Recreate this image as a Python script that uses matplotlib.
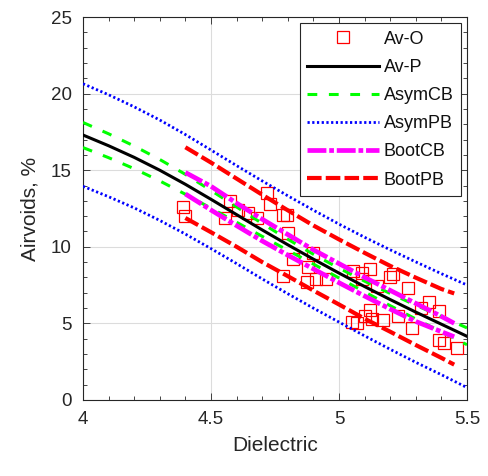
import matplotlib
matplotlib.use("Agg")
import matplotlib.pyplot as plt
from matplotlib.ticker import MultipleLocator

plt.rcParams['font.family'] = ['Liberation Sans', 'DejaVu Sans']

# Observed data (Av-O)
obs_x = [4.39, 4.40, 4.555, 4.575, 4.605, 4.645, 4.68, 4.72, 4.73, 4.78, 4.795,
         4.80, 4.82, 4.78, 4.875, 4.90, 4.88, 4.91, 4.95, 5.055, 5.05, 5.12,
         5.09, 5.15, 5.20, 5.21, 5.27, 5.35, 5.39, 5.32, 5.12, 5.13, 5.10,
         5.17, 5.23, 5.285, 5.39, 5.41, 5.46, 5.09, 5.07]
obs_y = [12.6, 12.0, 11.9, 13.0, 12.4, 12.2, 11.85, 13.5, 12.8, 12.05, 12.05,
         10.9, 9.2, 8.1, 7.7, 9.6, 8.7, 7.9, 7.9, 8.4, 5.1, 8.55,
         7.9, 7.45, 8.0, 8.2, 7.3, 6.4, 5.8, 6.0, 5.9, 5.3, 5.5,
         5.2, 5.5, 4.7, 3.9, 3.7, 3.4, 8.3, 5.05]

# Fitted curve and asymptotic bands
fit_x = [4.0, 4.1, 4.2, 4.3, 4.4, 4.5, 4.6, 4.7, 4.8, 4.9, 5.0, 5.1, 5.2, 5.3, 5.4, 5.5]
av_p = [17.3, 16.6, 15.84, 15.0, 14.08, 13.1, 12.1, 11.1, 10.13, 9.19, 8.28, 7.4, 6.55, 5.73, 4.94, 4.15]
asym_cb_upper = [18.12, 17.38, 16.58, 15.7, 14.73, 13.68, 12.6, 11.52, 10.49, 9.51, 8.6, 7.75, 6.95, 6.18, 5.44, 4.7]
asym_cb_lower = [16.48, 15.82, 15.1, 14.3, 13.43, 12.52, 11.6, 10.68, 9.77, 8.87, 7.96, 7.05, 6.15, 5.28, 4.44, 3.6]
asym_pb_upper = [20.65, 19.93, 19.14, 18.28, 17.33, 16.32, 15.3, 14.3, 13.33, 12.39, 11.48, 10.62, 9.8, 9.01, 8.24, 7.5]
asym_pb_lower = [13.95, 13.27, 12.54, 11.72, 10.83, 9.88, 8.9, 7.9, 6.93, 5.99, 5.08, 4.18, 3.3, 2.45, 1.64, 0.8]

# Bootstrap bands
boot_x = [4.4, 4.5, 4.6, 4.7, 4.8, 4.9, 5.0, 5.1, 5.2, 5.3, 5.4, 5.45]
boot_cb_upper = [14.85, 13.95, 12.85, 11.8, 10.8, 9.8, 8.9, 8.0, 7.15, 6.3, 5.45, 5.0]
boot_cb_lower = [13.45, 12.4, 11.38, 10.38, 9.45, 8.55, 7.65, 6.78, 5.93, 5.12, 4.45, 4.12]
boot_pb_upper = [16.5, 15.5, 14.45, 13.4, 12.38, 11.39, 10.48, 9.6, 8.75, 7.98, 7.24, 6.95]
boot_pb_lower = [11.88, 10.95, 10.0, 9.0, 8.08, 7.14, 6.23, 5.3, 4.45, 3.58, 2.74, 2.3]

x_ticks = [4, 4.5, 5, 5.5]
x_ticklabels = ['4', '4.5', '5', '5.5']
y_ticks = [0, 5, 10, 15, 20, 25]

fig = plt.figure(figsize=(4.88, 4.76), dpi=100)
ax = fig.add_axes([0.170, 0.160, 0.787, 0.804])

dark = '#262626'
green = '#00ff00'
blue = '#0000ff'
mag = '#ff00ff'
red = '#ff0000'

h_obs, = ax.plot(obs_x, obs_y, linestyle='none', marker='s', markersize=8,
                 markerfacecolor='none', markeredgecolor=red, markeredgewidth=0.9,
                 zorder=3, label='Av-O')
h_cb, = ax.plot(fit_x, asym_cb_upper, color=green, lw=2.2, dashes=(3.2, 3.8), zorder=4, label='AsymCB')
ax.plot(fit_x, asym_cb_lower, color=green, lw=2.2, dashes=(3.2, 3.8), zorder=4)
h_pb, = ax.plot(fit_x, asym_pb_upper, color=blue, lw=2.0, dashes=(0.8, 0.9), zorder=4, label='AsymPB')
ax.plot(fit_x, asym_pb_lower, color=blue, lw=2.0, dashes=(0.8, 0.9), zorder=4)
h_bcb, = ax.plot(boot_x, boot_cb_upper, color=mag, lw=3.4, dashes=(4, 0.6, 1, 0.6), zorder=5, label='BootCB')
ax.plot(boot_x, boot_cb_lower, color=mag, lw=3.4, dashes=(4, 0.6, 1, 0.6), zorder=5)
h_bpb, = ax.plot(boot_x, boot_pb_upper, color=red, lw=3.0, dashes=(3.5, 1.0), zorder=5, label='BootPB')
ax.plot(boot_x, boot_pb_lower, color=red, lw=3.0, dashes=(3.5, 1.0), zorder=5)
h_p, = ax.plot(fit_x, av_p, color='black', lw=2.2, zorder=6, label='Av-P')

ax.set_xlim(4, 5.5)
ax.set_ylim(0, 25)
ax.set_xticks(x_ticks)
ax.set_xticklabels(x_ticklabels)
ax.set_yticks(y_ticks)
ax.xaxis.set_minor_locator(MultipleLocator(0.1))
ax.yaxis.set_minor_locator(MultipleLocator(1))
ax.tick_params(which='both', direction='in', top=True, right=True, colors=dark,
               labelsize=13.5, width=0.6)
ax.tick_params(which='major', length=5, pad=8)
ax.tick_params(which='minor', length=3)
ax.grid(True, which='major', color='#dcdcdc', lw=0.8)
ax.set_axisbelow(True)
for s in ax.spines.values():
    s.set_color(dark)
    s.set_linewidth(0.8)

ax.set_xlabel('Dielectric', fontsize=15, color=dark, labelpad=6)
ax.set_ylabel('Airvoids, %', fontsize=15, color=dark, labelpad=8)

leg = ax.legend(handles=[h_obs, h_p, h_cb, h_pb, h_bcb, h_bpb], loc='upper right',
                fontsize=13, fancybox=False, framealpha=1, edgecolor=dark,
                handlelength=4.0, handletextpad=0.25, labelspacing=0.62,
                borderaxespad=0.35, borderpad=0.4)
leg.get_frame().set_linewidth(0.8)
for t in leg.get_texts():
    t.set_color('#111111')

fig.savefig('out.png', dpi=100)
